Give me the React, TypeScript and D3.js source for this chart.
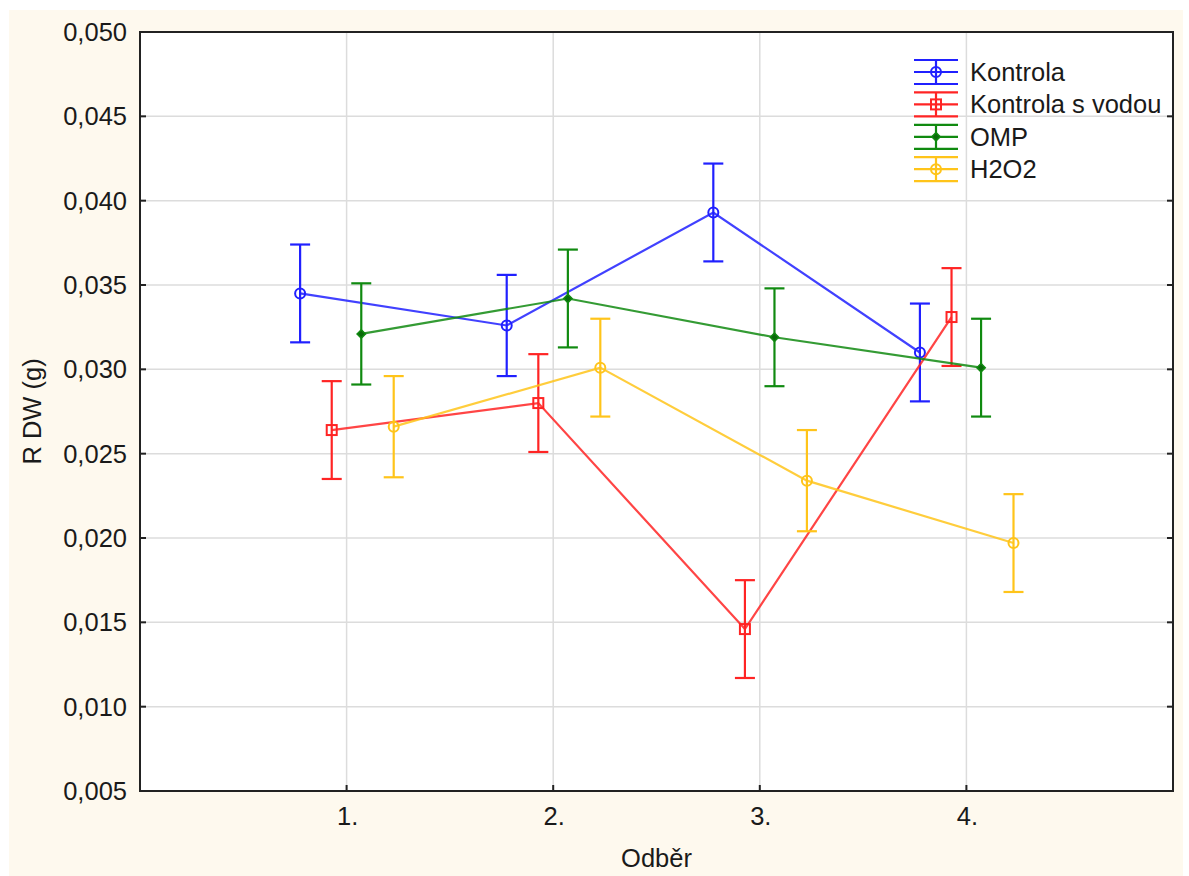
import React, { useEffect, useRef } from 'react';
import * as d3 from 'd3';

// Odběr (sampling) categories
const categories = ['1.', '2.', '3.', '4.'];
const yTicks = [0.005, 0.01, 0.015, 0.02, 0.025, 0.03, 0.035, 0.04, 0.045, 0.05];

// mean values per series
const kontrola = [0.0345, 0.0326, 0.0393, 0.0310];
const kontrolaVoda = [0.0264, 0.0280, 0.0146, 0.0331];
const omp = [0.0321, 0.0342, 0.0319, 0.0301];
const h2o2 = [0.0266, 0.0301, 0.0234, 0.0197];

// error bar half-widths
const kontrolaErr = [0.0029, 0.0030, 0.0029, 0.0029];
const kontrolaVodaErr = [0.0029, 0.0029, 0.0029, 0.0029];
const ompErr = [0.0030, 0.0029, 0.0029, 0.0029];
const h2o2Err = [0.0030, 0.0029, 0.0030, 0.0029];

const seriesNames = ['Kontrola', 'Kontrola s vodou', 'OMP', 'H2O2'];

const series = [
  { name: seriesNames[0], values: kontrola, err: kontrolaErr, color: '#2020ff', marker: 'circle', offset: -0.225 },
  { name: seriesNames[1], values: kontrolaVoda, err: kontrolaVodaErr, color: '#ff2424', marker: 'square', offset: -0.072 },
  { name: seriesNames[2], values: omp, err: ompErr, color: '#108a10', marker: 'diamond', offset: 0.071 },
  { name: seriesNames[3], values: h2o2, err: h2o2Err, color: '#ffc41a', marker: 'circle', offset: 0.228 },
];

const W = 1189;
const H = 876;
const FONT = '"Liberation Sans", Arial, sans-serif';
const FS = '25.5px';

export default function App() {
  const svgRef = useRef<SVGSVGElement>(null);

  useEffect(() => {
    const svg = d3.select(svgRef.current);
    svg.selectAll('*').remove();

    const left = 140, right = 1173, top = 32, bottom = 791;

    const x = d3.scaleLinear().domain([0, 5]).range([left, right]);
    const y = d3.scaleLinear().domain([0.005, 0.05]).range([bottom, top]);

    // background
    svg.append('rect').attr('width', W).attr('height', H).attr('fill', '#fff');
    svg.append('rect').attr('x', 9).attr('y', 10).attr('width', 1174).attr('height', H - 10).attr('fill', '#fef9ee');
    svg.append('rect').attr('x', left).attr('y', top).attr('width', right - left).attr('height', bottom - top).attr('fill', '#fff');

    // grid
    const grid = svg.append('g').attr('stroke', '#dcdcdc').attr('stroke-width', 1.5);
    grid.selectAll('line.h')
      .data(yTicks.slice(1, -1))
      .join('line')
      .attr('x1', left).attr('x2', right)
      .attr('y1', d => y(d)).attr('y2', d => y(d));
    grid.selectAll('line.v')
      .data(categories)
      .join('line')
      .attr('x1', (d, i) => x(i + 1)).attr('x2', (d, i) => x(i + 1))
      .attr('y1', top).attr('y2', bottom);

    // frame + inward ticks
    svg.append('rect')
      .attr('x', left).attr('y', top)
      .attr('width', right - left).attr('height', bottom - top)
      .attr('fill', 'none').attr('stroke', '#222').attr('stroke-width', 2);

    const ticks = svg.append('g').attr('stroke', '#222').attr('stroke-width', 2);
    yTicks.forEach(t => {
      ticks.append('line').attr('x1', left).attr('x2', left + 6).attr('y1', y(t)).attr('y2', y(t));
      ticks.append('line').attr('x1', right - 6).attr('x2', right).attr('y1', y(t)).attr('y2', y(t));
    });
    categories.forEach((c, i) => {
      ticks.append('line').attr('x1', x(i + 1)).attr('x2', x(i + 1)).attr('y1', bottom).attr('y2', bottom - 6);
    });

    // tick labels
    const fmt = (v: number) => v.toFixed(3).replace('.', ',');
    svg.append('g')
      .selectAll('text')
      .data(yTicks)
      .join('text')
      .attr('x', 127)
      .attr('y', d => y(d))
      .attr('dy', '0.35em')
      .attr('text-anchor', 'end')
      .style('font-family', FONT)
      .style('font-size', FS)
      .style('fill', '#1a1a1a')
      .text(d => fmt(d));

    svg.append('g')
      .selectAll('text')
      .data(categories)
      .join('text')
      .attr('x', (d, i) => x(i + 1) + 1)
      .attr('y', 825)
      .attr('text-anchor', 'middle')
      .style('font-family', FONT)
      .style('font-size', FS)
      .style('fill', '#1a1a1a')
      .text(d => d);

    // axis titles
    svg.append('text')
      .attr('x', (left + right) / 2)
      .attr('y', 867)
      .attr('text-anchor', 'middle')
      .style('font-family', FONT)
      .style('font-size', FS)
      .style('fill', '#1a1a1a')
      .text('Odběr');

    svg.append('text')
      .attr('transform', `translate(32, ${(top + bottom) / 2}) rotate(-90)`)
      .attr('dy', '0.35em')
      .attr('text-anchor', 'middle')
      .style('font-family', FONT)
      .style('font-size', FS)
      .style('fill', '#1a1a1a')
      .text('R DW (g)');

    const drawMarker = (g: any, type: string, cx: number, cy: number, color: string) => {
      if (type === 'circle') {
        g.append('circle').attr('cx', cx).attr('cy', cy).attr('r', 5)
          .attr('fill', 'none').attr('stroke', color).attr('stroke-width', 2);
      } else if (type === 'square') {
        g.append('rect').attr('x', cx - 5).attr('y', cy - 5).attr('width', 10).attr('height', 10)
          .attr('fill', 'none').attr('stroke', color).attr('stroke-width', 2);
      } else {
        const s = d3.symbol().type(d3.symbolDiamond2).size(45);
        g.append('path').attr('transform', `translate(${cx},${cy})`).attr('d', s())
          .attr('fill', '#0a6a0a').attr('stroke', color).attr('stroke-width', 1.5);
      }
    };

    const plot = svg.append('g');
    series.forEach(s => {
      const g = plot.append('g');
      const px = (i: number) => x(i + 1 + s.offset);
      g.append('path')
        .datum(s.values)
        .attr('d', d3.line<number>().x((d, i) => px(i)).y(d => y(d)))
        .attr('fill', 'none')
        .attr('stroke', s.color)
        .attr('stroke-width', 2.2)
        .attr('stroke-opacity', 0.85);
      s.values.forEach((v, i) => {
        const cx = px(i);
        const hi = y(v + s.err[i]);
        const lo = y(v - s.err[i]);
        g.append('line').attr('x1', cx).attr('x2', cx).attr('y1', hi).attr('y2', lo)
          .attr('stroke', s.color).attr('stroke-width', 2.2);
        [hi, lo].forEach(yy => {
          g.append('line').attr('x1', cx - 10).attr('x2', cx + 10).attr('y1', yy).attr('y2', yy)
            .attr('stroke', s.color).attr('stroke-width', 2.2);
        });
        drawMarker(g, s.marker, cx, y(v), s.color);
      });
    });

    // legend
    const legend = svg.append('g').attr('transform', 'translate(936, 72)');
    series.forEach((s, i) => {
      const g = legend.append('g').attr('transform', `translate(0, ${i * 32.4})`);
      [-12, 0, 12].forEach(dy => {
        g.append('line').attr('x1', -22).attr('x2', 22).attr('y1', dy).attr('y2', dy)
          .attr('stroke', s.color).attr('stroke-width', 2.2);
      });
      g.append('line').attr('x1', 0).attr('x2', 0).attr('y1', -12).attr('y2', 12)
        .attr('stroke', s.color).attr('stroke-width', 2.2);
      drawMarker(g, s.marker, 0, 0, s.color);
      g.append('text')
        .attr('x', 34)
        .attr('y', 0)
        .attr('dy', '0.35em')
        .style('font-family', FONT)
        .style('font-size', FS)
        .style('fill', '#1a1a1a')
        .text(s.name);
    });
  }, []);

  return (
    <svg
      ref={svgRef}
      width={W}
      height={H}
      style={{ position: 'absolute', left: 0, top: 0, display: 'block' }}
    />
  );
}
